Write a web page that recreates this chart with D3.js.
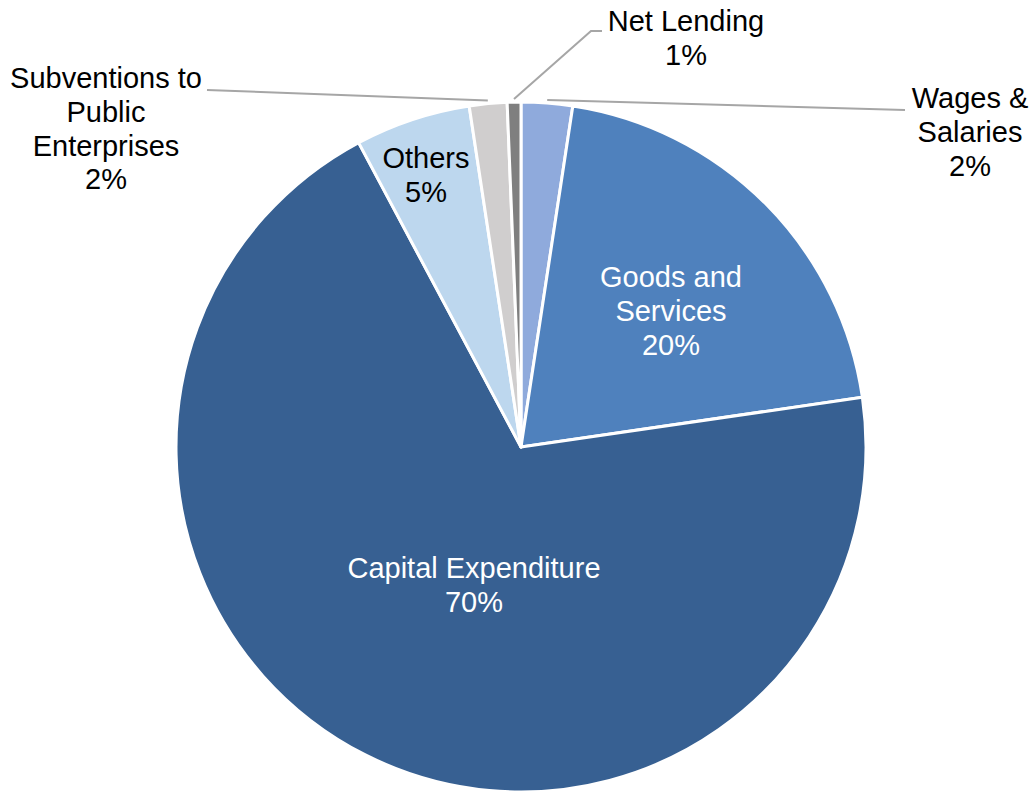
<!DOCTYPE html>
<html>
<head>
<meta charset="utf-8">
<script src="https://cdn.jsdelivr.net/npm/d3@7/dist/d3.min.js"></script>
<style>
  html, body { margin: 0; padding: 0; background: #ffffff; }
  svg { display: block; }
  text { font-family: "Liberation Sans", Arial, sans-serif; font-size: 29px; }
</style>
</head>
<body>
<svg id="chart" width="1032" height="792"></svg>
<script>
// Expenditure shares (percent), clockwise from 12 o'clock
const categories = ["Wages & Salaries", "Goods and Services", "Capital Expenditure", "Others", "Subventions to Public Enterprises", "Net Lending"];
const values = [2.4, 20.3, 69.5, 5.4, 1.76, 0.64];
const percentLabels = ["2%", "20%", "70%", "5%", "2%", "1%"];
const colors = ["#8FAADC", "#4F81BD", "#376092", "#BDD7EE", "#D0CECE", "#7F7F7F"];

// Label text broken into lines (name lines followed by the percentage)
const nameLines = [
  ["Wages &", "Salaries"],
  ["Goods and", "Services"],
  ["Capital Expenditure"],
  ["Others"],
  ["Subventions to", "Public", "Enterprises"],
  ["Net Lending"]
];
// Centre x and first baseline of each label block
const labelPos = [
  { x: 970, y: 108, fill: "#000" },
  { x: 671, y: 287, fill: "#fff" },
  { x: 474, y: 578, fill: "#fff" },
  { x: 426, y: 168, fill: "#000" },
  { x: 106, y: 88,  fill: "#000" },
  { x: 686, y: 31,  fill: "#000" }
];
// Leader lines for the outside labels: points from the label to the slice rim
const leaders = [
  { i: 0, pts: [[905, 110]] },
  { i: 4, pts: [[207, 90]] },
  { i: 5, pts: [[602, 31], [591, 31]] }
];

const svg = d3.select("#chart");
const cx = 521, cy = 447, r = 345;

const pie = d3.pie().value(d => d).sort(null);
const arcs = pie(values);
const arc = d3.arc().innerRadius(0).outerRadius(r);

const g = svg.append("g").attr("transform", `translate(${cx},${cy})`);
g.selectAll("path")
  .data(arcs)
  .join("path")
  .attr("d", arc)
  .attr("fill", (d, i) => colors[i])
  .attr("stroke", "#ffffff")
  .attr("stroke-width", 3)
  .attr("stroke-linejoin", "round");

// Leader lines end just outside the middle of each slice's rim
const line = d3.line();
leaders.forEach(l => {
  const a = arcs[l.i];
  const mid = (a.startAngle + a.endAngle) / 2;
  const rim = [cx + Math.sin(mid) * (r + 3), cy - Math.cos(mid) * (r + 3)];
  svg.append("path")
    .attr("d", line([...l.pts, rim]))
    .attr("fill", "none")
    .attr("stroke", "#A6A6A6")
    .attr("stroke-width", 2);
});

// Data labels
const lineH = 33.8;
nameLines.forEach((lines, i) => {
  const p = labelPos[i];
  const t = svg.append("text")
    .attr("text-anchor", "middle")
    .attr("fill", p.fill);
  [...lines, percentLabels[i]].forEach((s, k) => {
    t.append("tspan")
      .attr("x", p.x)
      .attr("y", p.y + k * lineH)
      .text(s);
  });
});
</script>
</body>
</html>
